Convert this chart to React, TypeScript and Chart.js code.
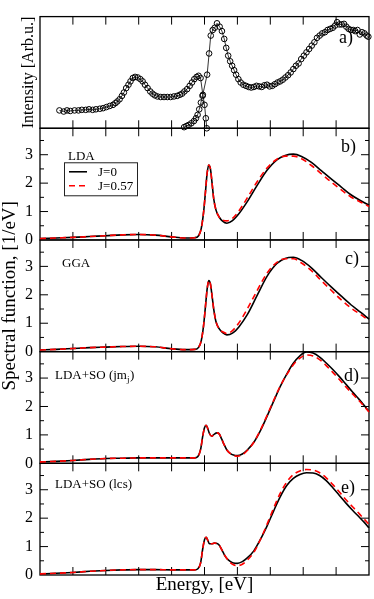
import React, { useEffect, useRef } from "react";
import { Chart, registerables } from "chart.js";

Chart.register(...registerables);

// ---------- Panel a) experiment (two measured branches) ----------
const expLowEnergy = [0.59,0.72,0.82,0.92,1.05,1.17,1.27,1.39,1.49,1.60,1.70,1.82,1.92,2.02,2.12,2.22,2.29,2.35,2.42,2.49,2.55,2.62,2.69,2.75,2.82,2.89,2.97,3.05,3.12,3.19,3.27,3.35,3.42,3.49,3.57,3.67,3.77,3.87,3.97,4.07,4.17,4.25,4.32,4.39,4.47,4.55,4.62,4.69,4.76,4.82,4.88,4.95,5.00,5.04,5.07];
const expLowIntensity = [0.16,0.15,0.16,0.155,0.16,0.16,0.165,0.165,0.17,0.165,0.17,0.175,0.18,0.19,0.2,0.21,0.225,0.24,0.26,0.29,0.32,0.36,0.39,0.42,0.45,0.46,0.455,0.44,0.42,0.39,0.36,0.33,0.31,0.295,0.285,0.28,0.28,0.28,0.28,0.285,0.29,0.3,0.31,0.33,0.35,0.38,0.41,0.44,0.46,0.47,0.45,0.30,0.21,0.09,0.0];
const expHighEnergy = [4.38,4.45,4.52,4.60,4.68,4.74,4.79,4.84,4.89,4.94,5.08,5.14,5.19,5.25,5.31,5.38,5.46,5.53,5.60,5.66,5.72,5.78,5.84,5.90,5.96,6.03,6.10,6.18,6.26,6.34,6.42,6.50,6.58,6.66,6.74,6.82,6.90,6.98,7.06,7.14,7.22,7.30,7.38,7.46,7.54,7.62,7.70,7.78,7.86,7.94,8.02,8.10,8.18,8.26,8.34,8.42,8.50,8.58,8.66,8.74,8.82,8.90,8.97,9.03,9.10,9.17,9.24,9.31,9.38,9.45,9.52,9.58,9.65,9.72,9.79,9.86,9.93,9.98];
const expHighIntensity = [0.01,0.02,0.03,0.045,0.065,0.09,0.12,0.17,0.23,0.29,0.48,0.67,0.83,0.88,0.9,0.94,0.91,0.87,0.8,0.72,0.65,0.6,0.56,0.52,0.48,0.44,0.41,0.39,0.38,0.37,0.365,0.37,0.38,0.375,0.37,0.385,0.39,0.375,0.38,0.395,0.41,0.42,0.435,0.455,0.475,0.5,0.53,0.56,0.58,0.62,0.65,0.68,0.71,0.74,0.77,0.81,0.83,0.85,0.86,0.88,0.89,0.9,0.92,0.95,0.93,0.93,0.935,0.91,0.89,0.88,0.88,0.87,0.88,0.84,0.86,0.85,0.83,0.82];

// ---------- Panels b) and c) ----------
const energyBC = [0,0.5,1,1.5,2,2.5,3,3.5,4,4.4,4.7,4.82,4.9,4.97,5.03,5.08,5.13,5.18,5.23,5.28,5.35,5.45,5.55,5.68,5.85,6.05,6.3,6.6,6.9,7.2,7.45,7.7,7.95,8.25,8.55,8.85,9.15,9.45,9.75,10];
const ldaJ0 = [0.05,0.07,0.09,0.12,0.15,0.18,0.19,0.17,0.11,0.07,0.08,0.15,0.4,0.95,1.7,2.35,2.64,2.5,2.0,1.45,1.05,0.8,0.66,0.59,0.68,0.93,1.35,1.92,2.45,2.82,2.97,3.02,2.94,2.73,2.44,2.15,1.87,1.59,1.38,1.22];
const ldaJ057 = [0.05,0.07,0.09,0.12,0.15,0.18,0.19,0.17,0.11,0.07,0.08,0.15,0.4,0.95,1.7,2.35,2.64,2.5,2.0,1.45,1.05,0.8,0.7,0.67,0.76,1.03,1.48,2.05,2.53,2.84,2.95,2.95,2.86,2.62,2.33,2.04,1.77,1.51,1.33,1.18];
const ggaJ0 = [0.06,0.08,0.11,0.14,0.16,0.18,0.19,0.17,0.1,0.07,0.08,0.15,0.38,0.9,1.6,2.2,2.5,2.38,1.96,1.5,1.05,0.8,0.67,0.59,0.65,0.88,1.3,1.98,2.65,3.1,3.28,3.32,3.21,2.95,2.61,2.28,1.96,1.65,1.38,1.14];
const ggaJ057 = [0.06,0.08,0.11,0.14,0.16,0.18,0.19,0.17,0.1,0.07,0.08,0.15,0.38,0.9,1.6,2.2,2.5,2.38,1.96,1.5,1.05,0.8,0.7,0.64,0.74,1.02,1.5,2.15,2.76,3.14,3.27,3.27,3.12,2.85,2.5,2.16,1.83,1.54,1.3,1.1];

// ---------- Panels d) and e) ----------
const energyDE = [0,0.5,1,1.5,2,2.5,3,3.5,4,4.4,4.7,4.8,4.88,4.95,5.0,5.05,5.1,5.15,5.22,5.3,5.38,5.45,5.52,5.6,5.68,5.78,5.88,6.0,6.15,6.3,6.5,6.7,6.9,7.1,7.3,7.5,7.7,7.9,8.1,8.3,8.5,8.7,8.9,9.1,9.3,9.5,9.7,9.85,10];
const soJmjJ0 = [0.05,0.07,0.1,0.14,0.17,0.18,0.19,0.19,0.19,0.19,0.19,0.24,0.48,0.98,1.25,1.34,1.22,1.05,0.95,1.03,1.07,1.03,0.86,0.65,0.47,0.35,0.29,0.27,0.33,0.47,0.74,1.15,1.65,2.18,2.7,3.14,3.52,3.78,3.92,3.88,3.74,3.53,3.3,3.05,2.78,2.51,2.25,2.04,1.82];
const soJmjJ057 = [0.05,0.07,0.1,0.14,0.17,0.18,0.19,0.19,0.19,0.19,0.19,0.24,0.48,0.98,1.25,1.34,1.22,1.05,0.95,1.03,1.07,1.03,0.86,0.65,0.47,0.35,0.28,0.25,0.3,0.45,0.74,1.17,1.68,2.21,2.71,3.12,3.47,3.7,3.81,3.78,3.65,3.44,3.2,2.95,2.69,2.44,2.2,2.01,1.81];
const soLcsJ0 = [0.04,0.06,0.09,0.13,0.16,0.18,0.19,0.19,0.18,0.18,0.18,0.22,0.42,0.95,1.24,1.33,1.22,1.1,1.1,1.12,1.11,1.05,0.9,0.72,0.58,0.48,0.42,0.41,0.47,0.6,0.85,1.25,1.72,2.25,2.75,3.15,3.4,3.54,3.6,3.59,3.5,3.32,3.07,2.8,2.53,2.28,2.04,1.86,1.66];
const soLcsJ057 = [0.04,0.06,0.09,0.13,0.16,0.18,0.19,0.19,0.18,0.18,0.18,0.22,0.42,0.95,1.24,1.33,1.22,1.1,1.1,1.12,1.11,1.05,0.9,0.72,0.58,0.44,0.36,0.33,0.38,0.52,0.8,1.25,1.78,2.35,2.87,3.27,3.53,3.66,3.71,3.69,3.6,3.42,3.18,2.92,2.65,2.4,2.16,1.97,1.78];

// ---------- Labels / ticks ----------
const seriesNames = ["J=0", "J=0.57"];
const panelLetters = ["a)", "b)", "c)", "d)", "e)"];
const methodNames = ["", "LDA", "GGA", "LDA+SO (jm", "LDA+SO (lcs)"];
const xTickValues = [1, 2, 3, 4, 5, 6, 7, 8, 9];
const yTickValues = [0.5, 1, 1.5, 2, 2.5, 3, 3.5];
const xTitle = "Energy, [eV]";
const yTitleTop = "Intensity [Arb.u.]";
const yTitleMain = "Spectral function, [1/eV]";

const FONT = "'Liberation Serif', 'Times New Roman', serif";
const PANEL_IDS = ["yA", "yB", "yC", "yD", "yE"];
const RED = "#ff0000";

const pts = (xs: number[], ys: number[]) => xs.map((x, i) => ({ x, y: ys[i] }));

// per-panel text placement (pixel offsets)
const letterPos = [[-30, 26], [-28, 24], [-24, 24], [-25, 29], [-28, 30]];
const methodPos = [[0, 0], [68, 32], [62, 27], [55, 27], [55, 25]];

const panelPlugin = {
  id: "panelFrames",
  beforeDatasetsDraw(chart: any) {
    const ctx = chart.ctx as CanvasRenderingContext2D;
    const xs = chart.scales.x;
    ctx.save();
    ctx.strokeStyle = "#000";
    const seg = (x1: number, y1: number, x2: number, y2: number) => {
      ctx.beginPath();
      ctx.moveTo(x1, y1);
      ctx.lineTo(x2, y2);
      ctx.stroke();
    };
    PANEL_IDS.forEach((id, idx) => {
      const ys = chart.scales[id];
      ctx.lineWidth = 1;
      for (const v of xTickValues) {
        const px = xs.getPixelForValue(v);
        seg(px, ys.top, px, ys.top + 8);
        seg(px, ys.bottom, px, ys.bottom - 8);
      }
      if (idx > 0) {
        for (const v of yTickValues) {
          const py = ys.getPixelForValue(v);
          const len = Number.isInteger(v) ? 8 : 4;
          seg(xs.left, py, xs.left + len, py);
          seg(xs.right, py, xs.right - len, py);
        }
      }
      ctx.lineWidth = 1.3;
      ctx.strokeRect(xs.left, ys.top, xs.right - xs.left, ys.bottom - ys.top);
    });
    ctx.restore();
  },
  afterDatasetsDraw(chart: any) {
    const ctx = chart.ctx as CanvasRenderingContext2D;
    const xs = chart.scales.x;
    ctx.save();
    ctx.fillStyle = "#000";
    ctx.textBaseline = "alphabetic";
    ctx.textAlign = "left";
    PANEL_IDS.forEach((id, idx) => {
      const ys = chart.scales[id];
      ctx.font = `18px ${FONT}`;
      ctx.fillText(panelLetters[idx], xs.right + letterPos[idx][0], ys.top + letterPos[idx][1]);
      if (idx > 0) {
        ctx.font = `13px ${FONT}`;
        const mx = methodPos[idx][0];
        const my = ys.top + methodPos[idx][1];
        ctx.fillText(methodNames[idx], mx, my);
        if (idx === 3) {
          const w = ctx.measureText(methodNames[idx]).width;
          ctx.font = `9px ${FONT}`;
          ctx.fillText("j", mx + w, my + 3);
          const w2 = ctx.measureText("j").width;
          ctx.font = `13px ${FONT}`;
          ctx.fillText(")", mx + w + w2 + 0.5, my);
        }
      }
    });
    // legend in panel b
    const yb = chart.scales.yB;
    const lt = yb.top;
    ctx.strokeStyle = "#222";
    ctx.lineWidth = 1;
    ctx.strokeRect(64.5, lt + 34.5, 73, 33);
    ctx.lineWidth = 1.6;
    ctx.strokeStyle = "#000";
    ctx.beginPath();
    ctx.moveTo(69, lt + 43.5);
    ctx.lineTo(87, lt + 43.5);
    ctx.stroke();
    ctx.strokeStyle = RED;
    ctx.setLineDash([6, 4]);
    ctx.beginPath();
    ctx.moveTo(69, lt + 57.5);
    ctx.lineTo(89, lt + 57.5);
    ctx.stroke();
    ctx.setLineDash([]);
    ctx.font = `13px ${FONT}`;
    ctx.fillStyle = "#000";
    ctx.fillText(seriesNames[0], 98, lt + 48);
    ctx.fillText(seriesNames[1], 98, lt + 62);
    // common y title for b-e
    const yc = chart.scales.yC;
    ctx.translate(10, (yc.top + yc.bottom) / 2);
    ctx.rotate(-Math.PI / 2);
    ctx.textAlign = "center";
    ctx.textBaseline = "middle";
    ctx.font = `19px ${FONT}`;
    ctx.fillText(yTitleMain, 0, 0);
    ctx.restore();
  },
};

const curve = (label: string, xs: number[], ys: number[], axis: string, red: boolean) => ({
  label,
  data: pts(xs, ys),
  yAxisID: axis,
  borderColor: red ? RED : "#000",
  borderWidth: 1.6,
  borderDash: red ? [6, 4] : [],
  pointRadius: 0,
  fill: false,
  cubicInterpolationMode: "monotone" as const,
  clip: 4,
  order: red ? 0 : 1,
});

const expSet = (xs: number[], ys: number[]) => ({
  label: "exp",
  data: pts(xs, ys),
  yAxisID: "yA",
  borderColor: "#000",
  borderWidth: 0.8,
  pointRadius: 2.8,
  pointBorderWidth: 1,
  pointBorderColor: "#000",
  pointBackgroundColor: "rgba(0,0,0,0)",
  tension: 0,
  fill: false,
  clip: 6,
});

const specAxis = (weight: number) => ({
  type: "linear" as const,
  position: "left" as const,
  stack: "panels",
  stackWeight: 1,
  weight,
  min: 0,
  max: 3.93,
  grid: { display: false, drawTicks: false },
  border: { display: false },
  ticks: {
    stepSize: 1,
    includeBounds: false,
    autoSkip: false,
    padding: 7,
    color: "#000",
    font: { family: FONT, size: 16 },
    callback: (v: any) => (Number.isInteger(v) ? String(v) : ""),
  },
  afterFit: (s: any) => {
    s.width = 40;
  },
});

export default function App() {
  const ref = useRef<HTMLCanvasElement | null>(null);
  useEffect(() => {
    if (!ref.current) return;
    const chart = new Chart(ref.current, {
      type: "line",
      data: {
        datasets: [
          expSet(expLowEnergy, expLowIntensity),
          expSet(expHighEnergy, expHighIntensity),
          curve(seriesNames[0], energyBC, ldaJ0, "yB", false),
          curve(seriesNames[1], energyBC, ldaJ057, "yB", true),
          curve(seriesNames[0], energyBC, ggaJ0, "yC", false),
          curve(seriesNames[1], energyBC, ggaJ057, "yC", true),
          curve(seriesNames[0], energyDE, soJmjJ0, "yD", false),
          curve(seriesNames[1], energyDE, soJmjJ057, "yD", true),
          curve(seriesNames[0], energyDE, soLcsJ0, "yE", false),
          curve(seriesNames[1], energyDE, soLcsJ057, "yE", true),
        ] as any,
      },
      options: {
        responsive: false,
        animation: false,
        devicePixelRatio: 1,
        layout: { padding: { top: 2, right: 4, bottom: 0, left: 0 } },
        plugins: { legend: { display: false }, tooltip: { enabled: false } },
        scales: {
          x: {
            type: "linear",
            position: "bottom",
            min: 0,
            max: 10,
            grid: { display: false, drawTicks: false },
            border: { display: false },
            ticks: { display: false },
            title: {
              display: true,
              text: xTitle,
              color: "#000",
              font: { family: FONT, size: 19 },
              padding: { top: 0, bottom: 3 },
            },
            afterFit: (s: any) => {
              s.height = 24;
            },
          },
          yA: {
            type: "linear",
            position: "left",
            stack: "panels",
            stackWeight: 1,
            weight: 5,
            min: 0,
            max: 1,
            grid: { display: false, drawTicks: false },
            border: { display: false },
            ticks: { display: false },
            title: {
              display: true,
              text: yTitleTop,
              color: "#000",
              font: { family: FONT, size: 16 },
              padding: { top: 19, bottom: 0 },
            },
            afterFit: (s: any) => {
              s.width = 40;
            },
          },
          yB: specAxis(4),
          yC: specAxis(3),
          yD: specAxis(2),
          yE: specAxis(1),
        } as any,
      },
      plugins: [panelPlugin],
    });
    return () => chart.destroy();
  }, []);
  return (
    <div style={{ position: "absolute", left: 0, top: 0, width: 374, height: 599, background: "#fff" }}>
      <canvas ref={ref} width={374} height={599} style={{ display: "block" }} />
    </div>
  );
}
